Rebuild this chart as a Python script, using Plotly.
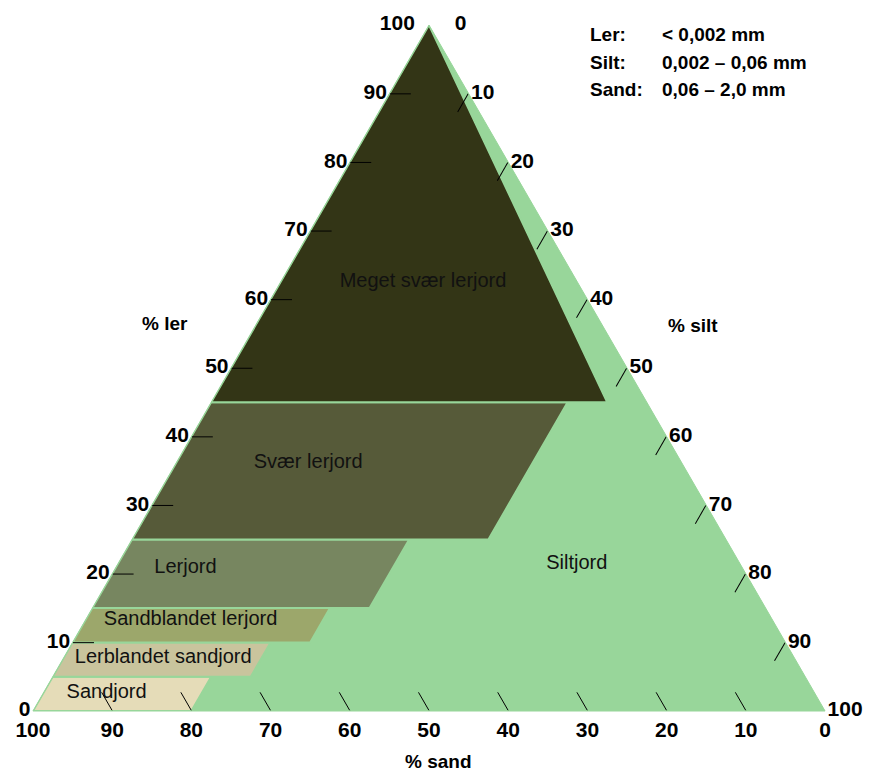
import plotly.graph_objects as go

# Soil classes (Danish texture triangle): clay band and max silt for each band
class_names = ["Sandjord", "Lerblandet sandjord", "Sandblandet lerjord",
               "Lerjord", "Svær lerjord", "Meget svær lerjord"]
clay_lower = [0, 5, 10, 15, 25, 45]
clay_upper = [5, 10, 15, 25, 45, 100]
silt_max = [20, 25, 30, 35, 45, 50]
class_colors = ["#e5dcb8", "#c9c49d", "#9ca76b", "#778660", "#565a39", "#333516"]
silt_color = "#98d69a"

# label positions (ler, silt); sand is the remainder
label_names = ["Meget svær lerjord", "Svær lerjord", "Lerjord", "Sandblandet lerjord",
               "Lerblandet sandjord", "Sandjord", "Siltjord"]
label_ler = [62.5, 36.1, 20.9, 13.2, 7.7, 2.6, 21.5]
label_silt = [18.0, 16.7, 8.8, 13.3, 12.6, 8.0, 57.9]

# tick values and labels
tick_vals = [0, 10, 20, 30, 40, 50, 60, 70, 80, 90, 100]
NB = "\u00a0"
ler_tick_text = [str(v) if v != 100 else "100" + NB * 2 for v in tick_vals]
silt_tick_text = [str(v) if v != 0 else NB * 4 + "0" for v in tick_vals]
sand_tick_text = [str(v) for v in tick_vals]

legend_names = ["Ler:", "Silt:", "Sand:"]
legend_ranges = ["< 0,002 mm", "0,002 – 0,06 mm", "0,06 – 2,0 mm"]

FONT = "Liberation Sans"
W, H = 863, 763   # page has an 8px body margin


def px(x):
    return (x - 8) / W


def py(y):
    return 1 - (y - 8) / H


fig = go.Figure()

for name, c0, c1, smax, col in zip(class_names, clay_lower, clay_upper, silt_max, class_colors):
    s_top = min(smax, 100 - c1)
    a = [c0, c1, c1, c0, c0]
    c = [0, 0, s_top, smax, 0]
    b = [100 - ai - ci for ai, ci in zip(a, c)]
    fig.add_trace(go.Scatterternary(
        a=a, b=b, c=c, mode="lines", fill="toself", fillcolor=col,
        line=dict(color=silt_color, width=2), name=name, hoverinfo="skip",
        showlegend=False))

fig.add_trace(go.Scatterternary(
    a=label_ler, c=label_silt,
    b=[100 - a - c for a, c in zip(label_ler, label_silt)],
    mode="text", text=label_names,
    textfont=dict(family=FONT, size=20, color="#111111"),
    hoverinfo="skip", showlegend=False))


def axis(texts):
    return dict(
        ticks="inside", ticklen=21, tickwidth=1.3, tickcolor="black",
        tickmode="array", tickvals=tick_vals, ticktext=texts,
        showgrid=False, showline=True, linecolor=silt_color, linewidth=1,
        tickfont=dict(family=FONT, size=21, color="black", weight="bold"),
        title=dict(text=""),
    )


fig.update_layout(
    width=W, height=H,
    paper_bgcolor="white",
    margin=dict(l=0, r=0, t=0, b=0),
    ternary=dict(
        sum=100,
        bgcolor=silt_color,
        domain=dict(x=[px(32), px(826)], y=[py(711), py(25)]),
        aaxis=axis(ler_tick_text),
        baxis=axis(sand_tick_text),
        caxis=axis(silt_tick_text),
    ),
)

annotations = []
for i, (n, r) in enumerate(zip(legend_names, legend_ranges)):
    y = py(35 + i * 27.5)
    annotations.append(dict(x=px(588), y=y, xref="paper", yref="paper", text="<b>" + n + "</b>",
                            showarrow=False, xanchor="left", yanchor="middle",
                            font=dict(family=FONT, size=19, color="black")))
    annotations.append(dict(x=px(660), y=y, xref="paper", yref="paper", text="<b>" + r + "</b>",
                            showarrow=False, xanchor="left", yanchor="middle",
                            font=dict(family=FONT, size=19, color="black")))

for txt, x, y in [("% ler", 165, 323), ("% silt", 693, 325), ("% sand", 438, 761)]:
    annotations.append(dict(x=px(x), y=py(y), xref="paper", yref="paper",
                            text="<b>" + txt + "</b>", showarrow=False,
                            xanchor="center", yanchor="middle",
                            font=dict(family=FONT, size=19, color="black")))

fig.update_layout(annotations=annotations)

fig.write_html("out.html")
